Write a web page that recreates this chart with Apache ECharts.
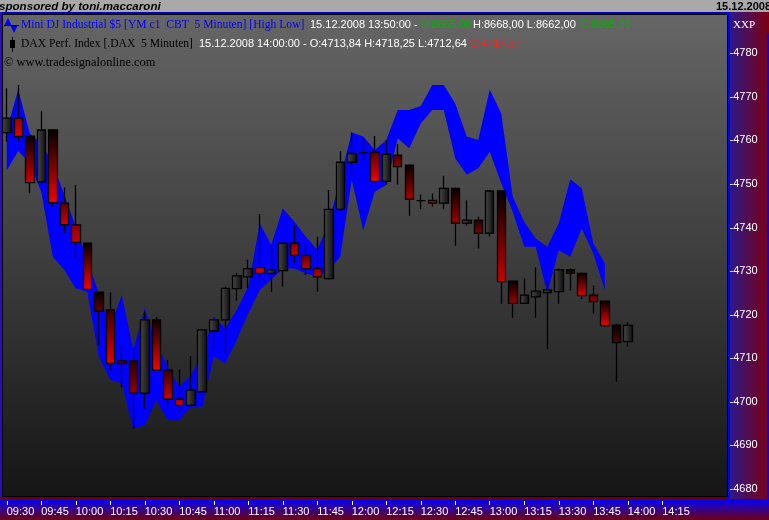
<!DOCTYPE html>
<html><head><meta charset="utf-8">
<script src="https://cdn.jsdelivr.net/npm/echarts@6/dist/echarts.min.js"></script>
<style>html,body{margin:0;padding:0;background:#a9a9a9}#c{width:769px;height:520px}</style>
</head><body><div id="c"></div>
<script>
const times = ['09:30','09:35','09:40','09:45','09:50','09:55',
'10:00','10:05','10:10','10:15','10:20','10:25','10:30','10:35','10:40','10:45','10:50','10:55',
'11:00','11:05','11:10','11:15','11:20','11:25','11:30','11:35','11:40','11:45','11:50','11:55',
'12:00','12:05','12:10','12:15','12:20','12:25','12:30','12:35','12:40','12:45','12:50','12:55',
'13:00','13:05','13:10','13:15','13:20','13:25','13:30','13:35','13:40','13:45','13:50','13:55',
'14:00','14:05','14:10','14:15','14:20','14:25','14:30','14:35','14:40'];
const tickLabels = ['09:30','09:45','10:00','10:15','10:30','10:45','11:00','11:15','11:30','11:45','12:00','12:15','12:30','12:45','13:00','13:15','13:30','13:45','14:00','14:15'];

// DAX Perf. Index 5-minute candles
const daxOpen = [4761.8,4765.1,4761.0,4750.5,4762.4,4745.6,4740.6,4736.4,4725.2,4721.1,
4709.4,4709.4,4702.0,4718.8,4707.3,4700.6,4699.2,4702.3,4716.3,4718.8,
4726.0,4728.7,4730.8,4729.5,4730.1,4736.4,4733.6,4730.6,4728.3,4744.2,
4755.0,4757.2,4757.3,4750.6,4756.6,4754.3,4746.2,4746.25,4745.6,4749.0,
4741.0,4741.7,4738.7,4748.4,4727.7,4722.6,4724.1,4725.05,4725.3,4730.3,
4729.5,4724.5,4723.1,4717.6,4713.84];
const daxClose = [4765.1,4760.9,4750.3,4762.4,4745.7,4740.7,4736.6,4725.8,4720.8,4708.8,
4708.8,4702.0,4718.8,4707.3,4700.6,4699.2,4702.7,4716.5,4718.8,4726.05,
4728.9,4730.6,4729.5,4730.3,4736.4,4733.6,4730.6,4728.7,4744.2,4755.0,
4757.0,4757.2,4750.6,4756.8,4754.0,4746.5,4746.2,4745.6,4749.0,4741.0,
4741.7,4738.7,4748.4,4727.6,4722.6,4724.5,4725.4,4725.7,4730.3,4729.5,
4724.4,4723.0,4717.5,4713.6,4717.57];
const daxLow = [4759.7,4759.7,4747.9,4750.1,4744.8,4738.8,4732.9,4725.7,4713.0,4707.2,
4703.3,4693.9,4698.5,4707.0,4698.5,4697.5,4699.0,4702.2,4712.0,4711.3,
4723.2,4726.05,4727.6,4725.3,4726.4,4731.8,4729.1,4725.3,4728.1,4743.9,
4752.1,4755.5,4750.3,4749.9,4749.9,4742.7,4744.2,4744.8,4744.2,4735.85,
4740.4,4735.2,4737.9,4722.5,4719.3,4722.5,4719.3,4712.05,4722.5,4725.5,
4723.6,4720.3,4717.2,4704.6,4712.64];
const daxHigh = [4772.0,4772.7,4761.2,4766.8,4762.6,4749.2,4749.8,4736.5,4725.3,4725.1,
4712.8,4712.3,4720.7,4719.5,4709.6,4707.5,4710.5,4716.6,4718.9,4726.4,
4729.6,4732.6,4743.1,4736.0,4736.6,4740.6,4736.0,4737.9,4748.6,4757.6,
4761.8,4760.5,4761.0,4760.1,4759.2,4754.4,4747.6,4747.85,4751.9,4749.2,
4746.3,4742.5,4748.6,4748.5,4727.8,4728.3,4730.9,4727.6,4730.6,4730.6,
4729.7,4726.7,4723.2,4717.9,4718.25];

// Mini DJ Industrial High/Low band (scaled onto DAX axis)
const ymUpper = [4762.4,4771.7,4761.6,4759.3,4754.7,4747.5,4740.2,4732.5,4724.9,4717.2,
4724.5,4711.9,4721.5,4713.4,4708.1,4703.5,4706.0,4711.0,4719.6,4716.9,
4721.1,4726.4,4741.0,4736.0,4744.4,4741.4,4737.9,4734.9,4741.0,4751.3,
4761.8,4760.9,4757.8,4760.1,4767.0,4767.0,4767.9,4772.7,4772.7,4768.5,
4760.9,4760.1,4771.7,4766.2,4747.1,4741.3,4737.5,4735.6,4741.0,4751.1,
4749.0,4736.4,4731.8];
const ymLower = [4753.1,4757.6,4754.7,4748.2,4733.3,4730.3,4726.0,4725.3,4710.4,4705.0,
4704.2,4693.9,4694.7,4700.4,4695.8,4695.8,4698.9,4698.9,4710.4,4708.8,
4714.2,4720.3,4725.7,4728.0,4730.6,4730.6,4729.5,4728.7,4730.2,4733.3,
4750.9,4739.4,4748.2,4749.8,4760.5,4758.2,4763.9,4767.0,4767.0,4755.9,
4752.1,4753.6,4757.4,4750.2,4743.6,4735.6,4735.6,4724.9,4734.8,4733.3,
4739.8,4734.1,4725.7];

const candleData = daxOpen.map((o, i) => [o, daxClose[i], daxLow[i], daxHigh[i]]);
const bandSpan = ymUpper.map((u, i) => +(u - ymLower[i]).toFixed(2));

const chart = echarts.init(document.getElementById('c'), null, {renderer: 'canvas'});
const SERIF = '"Liberation Serif", "Times New Roman", serif';
const SANS = '"Liberation Sans", Arial, sans-serif';
const LG = (x0,y0,x1,y1,c0,c1) => new echarts.graphic.LinearGradient(x0,y0,x1,y1,[{offset:0,color:c0},{offset:1,color:c1}]);

function txt(x, y, text, fill, font) {
  return {type:'text', x:x, y:y, z:100, style:{text:text, fill:fill, font:font, verticalAlign:'middle'}};
}

chart.setOption({
  animation: false,
  backgroundColor: '#a9a9a9',
  grid: {left: 1, right: 43.5, top: 53.3, bottom: 31},
  xAxis: {
    type: 'category', data: times, boundaryGap: true, offset: 12,
    axisLine: {show: false},
    axisTick: {show: true, alignWithLabel: true, length: 4, lineStyle: {color: '#ffffff', width: 1},
      interval: (i, v) => tickLabels.includes(v)},
    axisLabel: {color: '#ffffff', fontSize: 11, fontFamily: SANS, align: 'left', margin: 5,
      interval: (i, v) => tickLabels.includes(v)},
    splitLine: {show: false}
  },
  yAxis: {
    type: 'value', position: 'right', min: 4680, max: 4780, interval: 10, scale: true,
    axisLine: {show: false}, axisTick: {show: false}, splitLine: {show: false},
    axisLabel: {color: '#ffffff', fontSize: 11, fontFamily: SANS, margin: 4, formatter: v => '-' + v}
  },
  graphic: [
    // top strip & frame
    {type:'rect', z:-5, shape:{x:0,y:0,width:769,height:520}, style:{fill:'#a9a9a9'}},
    {type:'rect', z:-5, shape:{x:0,y:12,width:769,height:2}, style:{fill:'#0000c0'}},
    {type:'rect', z:-5, shape:{x:2,y:14,width:726,height:485}, style:{fill:LG(0,0,0,1,'#666666','#151515')}},
    {type:'rect', z:-4, shape:{x:2.5,y:14.5,width:725,height:482}, style:{fill:null, stroke:'#000000', lineWidth:1}},
    {type:'rect', z:-4, shape:{x:0,y:12,width:2,height:488}, style:{fill:'#2a10b0'}},
    {type:'rect', z:-4, shape:{x:0,y:497,width:728,height:2}, style:{fill:'#6a0000'}},
    // right axis panel
    {type:'rect', z:-5, shape:{x:728,y:12,width:41,height:488}, style:{fill:LG(0,0,1,0,'#281a8c','#7e0010')}},
    {type:'rect', z:-4, shape:{x:728,y:12,width:2,height:488}, style:{fill:'#0000ff'}},
    {type:'rect', z:-4, shape:{x:767,y:33,width:2,height:466}, style:{fill:'#0000ff'}},
    // bottom axis panel
    {type:'rect', z:-5, shape:{x:0,y:499,width:769,height:21}, style:{fill:LG(0,0,0,1,'#0000ff','#6e0010')}},
    // header texts
    txt(-1, 6.5, 'sponsored by toni.maccaroni', '#000000', 'italic bold 11.6px ' + SANS),
    txt(716, 6.5, '15.12.2008', '#000000', 'bold 11px ' + SANS),
    txt(733, 25, 'XXP', '#ffffff', '11px ' + SERIF),
    // legend line 1 icon
    {type:'polygon', z:100, shape:{points:[[4,26],[8,18],[12,26]]}, style:{fill:'#0000ff'}},
    {type:'polygon', z:100, shape:{points:[[10,25],[18,25],[14,33]]}, style:{fill:'#0000ff'}},
    {type:'line', z:101, shape:{x1:4,y1:25.5,x2:19,y2:25.5}, style:{stroke:'#000000', lineWidth:1}},
    txt(21, 25, 'Mini DJ Industrial $5 [YM c1  CBT  5 Minuten] [High Low]', '#0000ff', '11.6px ' + SERIF),
    txt(310, 25, '15.12.2008 13:50:00 - ', '#ffffff', '11px ' + SANS),
    txt(420, 25, 'O:8665,00', '#00b400', '11px ' + SANS),
    txt(473, 25, 'H:8668,00 L:8662,00', '#ffffff', '11px ' + SANS),
    txt(580, 25, 'C:8665,00', '#00b400', '11px ' + SANS),
    // legend line 2 icon
    {type:'line', z:100, shape:{x1:12.5,y1:37,x2:12.5,y2:52}, style:{stroke:'#000000', lineWidth:1}},
    {type:'rect', z:100, shape:{x:10,y:40,width:5,height:8}, style:{fill:'#000000'}},
    txt(21, 44, 'DAX Perf. Index [.DAX  5 Minuten]', '#000000', '11.6px ' + SERIF),
    txt(199, 44, '15.12.2008 14:00:00 - O:4713,84 H:4718,25 L:4712,64', '#ffffff', '11px ' + SANS),
    txt(470, 44, 'C:4717,57', '#ff2020', '11px ' + SANS),
    txt(4, 63, '© www.tradesignalonline.com', '#000000', '12.4px ' + SERIF)
  ],
  series: [
    {type:'line', name:'ymLow', data: ymLower, stack:'band', symbol:'none', silent:true,
      lineStyle:{width:0, opacity:0}, z:2},
    {type:'line', name:'ymSpan', data: bandSpan, stack:'band', symbol:'none', silent:true,
      lineStyle:{width:0, opacity:0}, areaStyle:{color:'#0000ff', opacity:1}, z:2},
    {type:'candlestick', name:'DAX', data: candleData, barWidth: 9, z:5,
      itemStyle:{
        color: LG(0,0,1,0,'#4a4a4a','#0c0c0c'),
        color0: LG(0,0,0,1,'#000000','#ff0000'),
        borderColor:'#000000', borderColor0:'#000000', borderWidth:1.3
      }}
  ]
});
</script></body></html>
